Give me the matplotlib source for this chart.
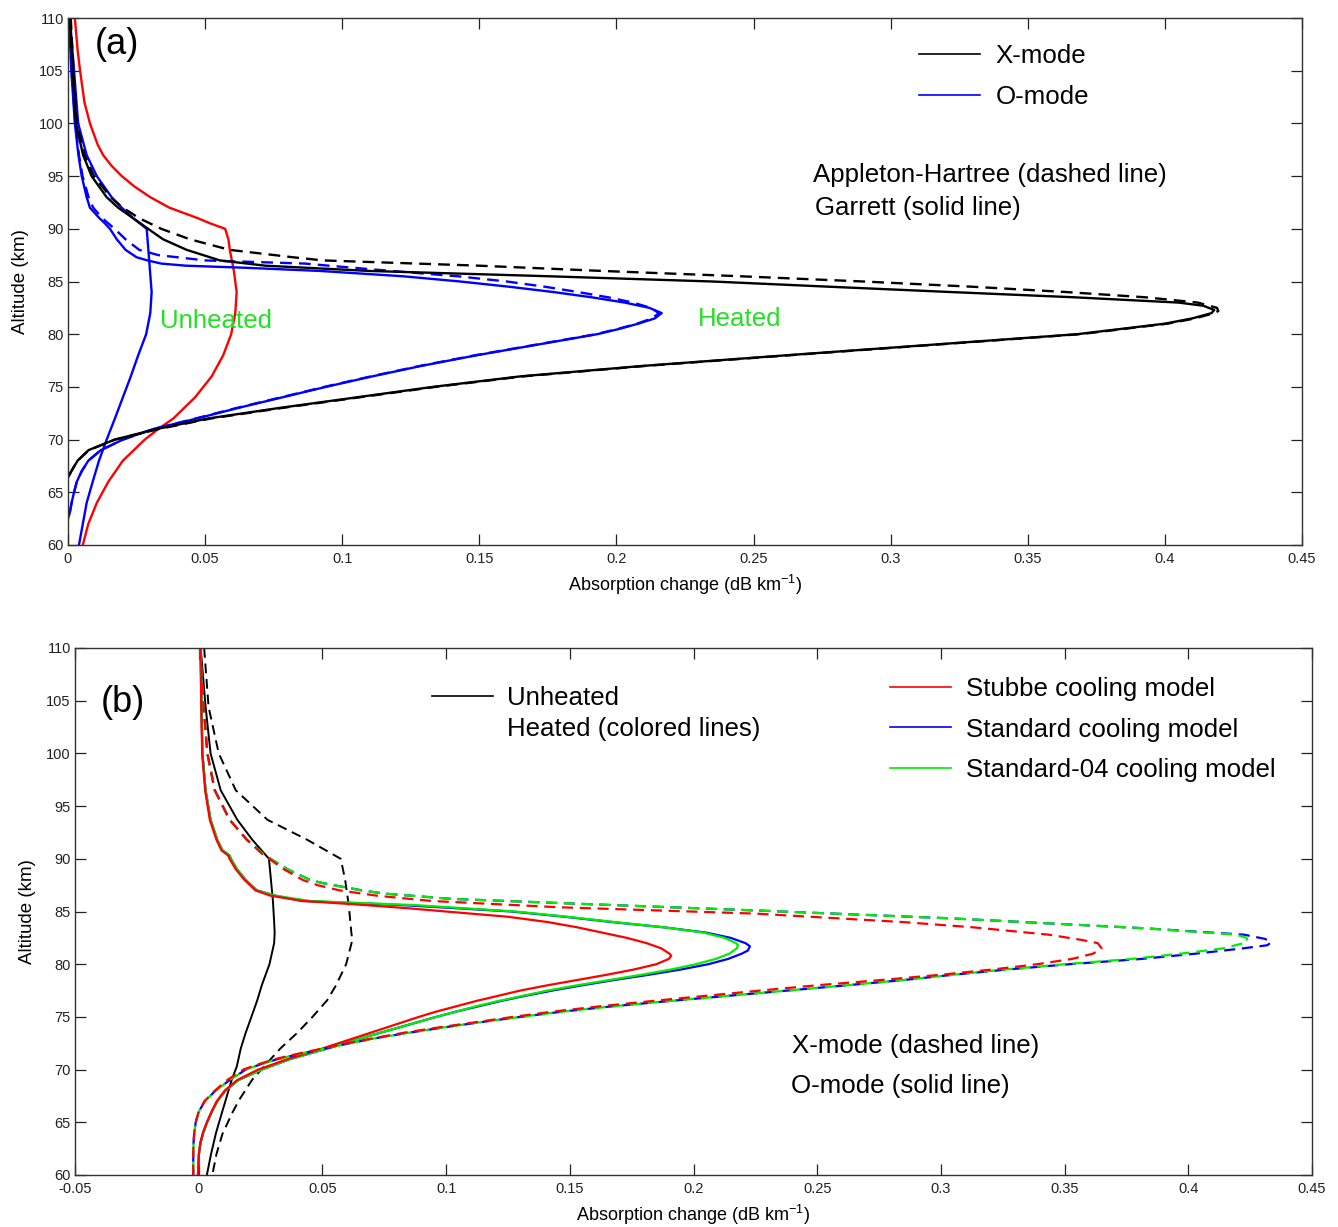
import numpy as np
import matplotlib
matplotlib.use("Agg")
import matplotlib.pyplot as plt
from matplotlib.lines import Line2D
from matplotlib.ticker import FuncFormatter

plt.rcParams['font.family'] = ['Liberation Sans', 'DejaVu Sans']
plt.rcParams['mathtext.default'] = 'regular'

# ---------------- Panel (a) data ----------------
a_red_alt = [110, 107, 105, 102, 100, 98, 97, 96, 95, 94, 93, 92, 91, 90.5, 90, 89, 88, 86, 84, 82, 80, 78, 76, 74, 72, 71, 70, 68, 66, 64, 62, 60]
a_red_x = [0.0025, 0.0035, 0.0044, 0.006, 0.008, 0.0108, 0.0128, 0.0158, 0.0196, 0.0243, 0.030, 0.037, 0.0474, 0.052, 0.0573, 0.0585, 0.059, 0.0605, 0.0615, 0.061, 0.0595, 0.0566, 0.0524, 0.0463, 0.0384, 0.0329, 0.028, 0.020, 0.0147, 0.0105, 0.0074, 0.0054]

a_blue_unh_alt = [110, 105, 100, 97, 95, 93, 92, 91, 90, 87, 84, 82, 80, 78, 76, 74, 72, 70, 68, 66, 64, 62, 60]
a_blue_unh_x = [0.0007, 0.0022, 0.0037, 0.0068, 0.0105, 0.0159, 0.0196, 0.0238, 0.0287, 0.0296, 0.0305, 0.0300, 0.0285, 0.0256, 0.0229, 0.020, 0.0171, 0.0141, 0.0113, 0.009, 0.0068, 0.0054, 0.004]

a_black_alt = [110, 105, 100, 97, 95, 93, 92, 91, 90, 89, 88, 87, 86.5, 86, 85.5, 85, 84.5, 84, 83.5, 83, 82.7, 82.3, 82, 81.5, 81, 80, 79, 78, 77, 76, 75, 74, 73, 72, 71, 70, 69, 68, 67, 66.4]
a_black_x = [0.0007, 0.0017, 0.0029, 0.0055, 0.0086, 0.0141, 0.0183, 0.0238, 0.0292, 0.0347, 0.0433, 0.0554, 0.072, 0.11, 0.175, 0.235, 0.278, 0.322, 0.367, 0.405, 0.414, 0.418, 0.417, 0.41, 0.40, 0.368, 0.315, 0.262, 0.21, 0.165, 0.133, 0.105, 0.077, 0.051, 0.0323, 0.017, 0.0075, 0.0035, 0.0012, 0.0]

a_black_dash_alt = [110, 105, 100, 97, 95, 93, 92, 91, 90.5, 90, 89, 88, 87.3, 87, 86.5, 86, 85.5, 85, 84.5, 84, 83.5, 83, 82.5, 82.2, 82, 81.5, 81, 80, 79, 78, 77, 76, 75, 74, 73, 72, 71, 70, 69, 68, 67, 66.4]
a_black_dash_x = [0.001, 0.002, 0.0032, 0.006, 0.0095, 0.0155, 0.02, 0.026, 0.030, 0.034, 0.0445, 0.059, 0.082, 0.093, 0.15, 0.195, 0.245, 0.29, 0.33, 0.364, 0.393, 0.412, 0.419, 0.4195, 0.418, 0.411, 0.401, 0.369, 0.316, 0.263, 0.211, 0.166, 0.134, 0.106, 0.078, 0.052, 0.033, 0.0172, 0.0076, 0.0035, 0.0012, 0.0]

a_blue_alt = [110, 105, 100, 97, 95, 93, 92, 91, 90.5, 90, 89, 88, 87.3, 87, 86.7, 86.5, 86.3, 86, 85.5, 85, 84.5, 84, 83.5, 83, 82.5, 82, 81.5, 81, 80.5, 80, 79, 78, 77, 76, 75, 74, 73, 72, 71, 70, 69, 68, 67, 66, 65, 64, 63, 62.5]
a_blue_x = [0.0004, 0.0012, 0.0025, 0.0038, 0.005, 0.0068, 0.008, 0.0115, 0.0135, 0.0153, 0.0178, 0.021, 0.025, 0.029, 0.034, 0.043, 0.065, 0.092, 0.122, 0.143, 0.161, 0.177, 0.191, 0.203, 0.212, 0.2165, 0.214, 0.208, 0.201, 0.193, 0.171, 0.149, 0.129, 0.111, 0.094, 0.078, 0.062, 0.047, 0.031, 0.020, 0.012, 0.0074, 0.005, 0.0032, 0.0022, 0.0013, 0.0006, 0.0]

a_blue_dash_alt = [110, 105, 100, 97, 95, 93, 92, 91, 90, 89, 88, 87.5, 87, 86.7, 86.5, 86, 85.5, 85, 84.5, 84, 83.5, 83, 82.5, 82, 81.5, 81, 80.5, 80, 79, 78, 77, 76, 75, 74, 73, 72, 71, 70, 69, 68, 67, 66, 65, 64, 63, 62.5]
a_blue_dash_x = [0.0005, 0.0013, 0.0027, 0.004, 0.0053, 0.0075, 0.0092, 0.0125, 0.017, 0.021, 0.026, 0.033, 0.05, 0.0865, 0.095, 0.118, 0.142, 0.16, 0.174, 0.186, 0.197, 0.206, 0.2125, 0.2155, 0.213, 0.2075, 0.2005, 0.1925, 0.1705, 0.1485, 0.1285, 0.1105, 0.0935, 0.0775, 0.0615, 0.0465, 0.0312, 0.020, 0.012, 0.0074, 0.005, 0.0032, 0.0022, 0.0013, 0.0006, 0.0]

# ---------------- Panel (b) data ----------------
b_black_alt = [110, 104.4, 100, 96.5, 93.7, 91.8, 90, 88, 86, 84, 83, 82, 80, 78, 76.6, 75, 73.5, 72, 70.3, 69, 67.1, 66, 64, 62, 60]
b_black_x = [0.0008, 0.0028, 0.0048, 0.0089, 0.0156, 0.0217, 0.0284, 0.0292, 0.030, 0.0305, 0.0307, 0.0305, 0.0286, 0.0255, 0.0237, 0.0213, 0.019, 0.017, 0.0154, 0.0133, 0.0109, 0.0095, 0.007, 0.005, 0.0033]

b_black_dash_alt = [110, 104.4, 100, 96.5, 93.7, 91.8, 90, 88, 85.5, 83, 82.3, 80, 78, 76.6, 75, 73.5, 72, 70.3, 69, 67.1, 66, 63.9, 62, 60]
b_black_dash_x = [0.0022, 0.004, 0.0081, 0.015, 0.0278, 0.0439, 0.0574, 0.0592, 0.0607, 0.0617, 0.0621, 0.0596, 0.0555, 0.052, 0.046, 0.0399, 0.033, 0.0264, 0.0215, 0.0163, 0.0138, 0.0096, 0.0072, 0.0055]

b_red_alt = [110, 105, 100, 96.5, 93.7, 91.8, 90.8, 90.3, 90, 89, 88, 87, 86.5, 86, 85.7, 85.3, 85, 84.5, 84, 83.5, 83, 82.5, 82, 81.5, 81, 80.8, 80.5, 80, 79.5, 79, 78.5, 78, 77.5, 77, 76.5, 76, 75.5, 75, 74, 73, 72, 71, 70, 69, 68, 67, 66, 65, 64, 63, 62, 61, 60]
b_red_x = [0.0007, 0.001, 0.0014, 0.0026, 0.0045, 0.0072, 0.0092, 0.012, 0.0125, 0.015, 0.0185, 0.023, 0.029, 0.042, 0.062, 0.085, 0.10, 0.125, 0.141, 0.153, 0.163, 0.173, 0.181, 0.187, 0.1903, 0.191, 0.19, 0.185, 0.176, 0.165, 0.153, 0.141, 0.130, 0.121, 0.112, 0.104, 0.096, 0.089, 0.076, 0.063, 0.05, 0.036, 0.024, 0.0155, 0.0105, 0.0073, 0.0052, 0.0033, 0.0017, 0.0006, 0.0001, -0.0001, -0.0003]

b_blue_alt = [110, 105, 100, 96.5, 93.7, 91.8, 90.8, 90.3, 90, 89, 88, 87, 86.5, 86, 85.6, 85, 84.5, 84, 83.5, 83, 82.5, 82, 81.7, 81.3, 81, 80.5, 80, 79.5, 79, 78.5, 78, 77.5, 77, 76.5, 76, 75.5, 75, 74, 73, 72, 71, 70, 69, 68, 67, 66, 65, 64, 63, 62, 61, 60]
b_blue_x = [0.0008, 0.0011, 0.0015, 0.0028, 0.0048, 0.0075, 0.0096, 0.0125, 0.013, 0.0155, 0.019, 0.0235, 0.031, 0.042, 0.083, 0.1265, 0.148, 0.167, 0.188, 0.205, 0.215, 0.221, 0.2228, 0.222, 0.2195, 0.214, 0.206, 0.195, 0.182, 0.168, 0.155, 0.143, 0.132, 0.122, 0.113, 0.104, 0.096, 0.081, 0.066, 0.052, 0.037, 0.0255, 0.016, 0.0108, 0.0075, 0.0053, 0.0034, 0.0018, 0.0007, 0.0001, -0.0001, -0.0003]

b_green_alt = [110, 105, 100, 96.5, 93.7, 91.8, 90.8, 90.3, 90, 89, 88, 87, 86.5, 86, 85.6, 85, 84.5, 84, 83.5, 83, 82.5, 82, 81.8, 81.5, 81, 80.5, 80, 79.5, 79, 78.5, 78, 77.5, 77, 76.5, 76, 75.5, 75, 74, 73, 72, 71, 70, 69, 68, 67, 66, 65, 64, 63, 62, 61, 60]
b_green_x = [0.0008, 0.0011, 0.0015, 0.0028, 0.0048, 0.0075, 0.0096, 0.0125, 0.013, 0.0155, 0.019, 0.0235, 0.031, 0.045, 0.088, 0.128, 0.149, 0.168, 0.188, 0.204, 0.2125, 0.2172, 0.218, 0.2175, 0.2145, 0.209, 0.201, 0.191, 0.179, 0.166, 0.153, 0.141, 0.131, 0.121, 0.112, 0.104, 0.096, 0.081, 0.066, 0.052, 0.037, 0.0255, 0.016, 0.0108, 0.0075, 0.0053, 0.0034, 0.0018, 0.0007, 0.0001, -0.0001, -0.0003]

b_blue_dash_alt = [110, 105, 100, 96.5, 93.7, 91.8, 90.5, 90, 89, 88, 87.7, 87, 86.7, 86.2, 85.8, 85.1, 84.35, 83.4, 82.8, 82.4, 82.1, 81.8, 81.5, 81, 80.5, 80, 79.5, 79, 78.5, 78, 77.5, 77, 76.5, 76, 75.5, 75, 74.5, 74, 73.5, 73, 72.5, 72, 71.5, 71, 70.5, 70, 69, 68, 67, 66, 65, 64, 63, 62, 61, 60]
b_blue_dash_x = [0.0006, 0.0018, 0.0035, 0.0065, 0.0125, 0.0195, 0.026, 0.029, 0.036, 0.045, 0.05, 0.066, 0.075, 0.102, 0.146, 0.225, 0.304, 0.383, 0.4226, 0.431, 0.4335, 0.432, 0.422, 0.403, 0.381, 0.352, 0.327, 0.305, 0.285, 0.262, 0.238, 0.214, 0.19, 0.167, 0.147, 0.13, 0.114, 0.099, 0.085, 0.072, 0.061, 0.051, 0.041, 0.032, 0.025, 0.019, 0.0125, 0.0068, 0.0025, 0.0, -0.0012, -0.0018, -0.0021, -0.0022, -0.0022, -0.0022]

b_green_dash_alt = [110, 105, 100, 96.5, 93.7, 91.8, 90.5, 90, 89, 88, 87.7, 87, 86.7, 86.2, 85.8, 85.1, 84.35, 83.4, 82.8, 82.5, 82.2, 82, 81.5, 81, 80.5, 80, 79.5, 79, 78.5, 78, 77.5, 77, 76.5, 76, 75.5, 75, 74.5, 74, 73.5, 73, 72.5, 72, 71.5, 71, 70.5, 70, 69, 68, 67, 66, 65, 64, 63, 62, 61, 60]
b_green_dash_x = [0.0006, 0.0018, 0.0035, 0.0065, 0.0125, 0.0195, 0.026, 0.029, 0.036, 0.045, 0.05, 0.066, 0.075, 0.102, 0.146, 0.225, 0.304, 0.383, 0.4195, 0.4235, 0.424, 0.4225, 0.414, 0.397, 0.377, 0.35, 0.326, 0.305, 0.285, 0.262, 0.238, 0.214, 0.19, 0.167, 0.147, 0.13, 0.114, 0.099, 0.085, 0.072, 0.061, 0.051, 0.041, 0.032, 0.025, 0.019, 0.0125, 0.0068, 0.0025, 0.0, -0.0012, -0.0018, -0.0021, -0.0022, -0.0022, -0.0022]

b_red_dash_alt = [110, 105, 100, 96.5, 93.7, 91.8, 90.5, 90, 89, 88, 87.5, 87, 86.5, 86, 85.4, 84.8, 84, 83.5, 82.8, 82.3, 82, 81.5, 81, 80.5, 80, 79.5, 79, 78.5, 78, 77.5, 77, 76.5, 76, 75.5, 75, 74.5, 74, 73.5, 73, 72.5, 72, 71.5, 71, 70.5, 70, 69, 68, 67, 66, 65, 64, 63, 62, 61, 60]
b_red_dash_x = [0.0006, 0.0018, 0.0035, 0.0065, 0.0125, 0.0195, 0.0255, 0.0285, 0.0345, 0.042, 0.048, 0.057, 0.072, 0.094, 0.146, 0.225, 0.2845, 0.313, 0.3436, 0.357, 0.3634, 0.365, 0.3615, 0.353, 0.339, 0.321, 0.3, 0.276, 0.25, 0.227, 0.205, 0.183, 0.162, 0.143, 0.127, 0.112, 0.097, 0.083, 0.071, 0.06, 0.05, 0.04, 0.031, 0.024, 0.018, 0.0115, 0.0065, 0.0023, 0.0, -0.0012, -0.0018, -0.0021, -0.0022, -0.0022, -0.0022]

a_xticks = [0, 0.05, 0.1, 0.15, 0.2, 0.25, 0.3, 0.35, 0.4, 0.45]
b_xticks = [-0.05, 0, 0.05, 0.1, 0.15, 0.2, 0.25, 0.3, 0.35, 0.4, 0.45]
yticks = [60, 65, 70, 75, 80, 85, 90, 95, 100, 105, 110]

RED = '#ff0000'
BLUE = '#0000ff'
GREEN = '#00ee00'
TXTGREEN = '#22e022'
DASH = (5, 3)
FS = 18.6

W, H = 1338, 1227
fig = plt.figure(figsize=(W / 100, H / 100), dpi=100)

def box(l, t, r, b):
    return [l / W, 1 - b / H, (r - l) / W, (b - t) / H]

axa = fig.add_axes(box(68, 18, 1302, 545))
axb = fig.add_axes(box(75, 648, 1312, 1175))

fmt = FuncFormatter(lambda v, p: '%g' % round(v, 4))

def style(ax, xticks, xlim):
    ax.set_xlim(*xlim)
    ax.set_ylim(60, 110)
    ax.set_xticks(xticks)
    ax.set_yticks(yticks)
    ax.xaxis.set_major_formatter(fmt)
    ax.tick_params(direction='in', top=True, right=True, length=8, width=0.9,
                   labelsize=10.5, colors='#222222')
    ax.tick_params(axis='x', pad=5)
    ax.tick_params(axis='y', pad=3)
    for s in ax.spines.values():
        s.set_linewidth(1.0)
        s.set_color('#333333')
    ax.set_xlabel('Absorption change (dB km$^{-1}$)', fontsize=13, labelpad=5)
    ax.set_ylabel('Altitude (km)', fontsize=13.5, labelpad=7)

lwa = 1.7
# Panel (a)
axa.plot(a_red_x, a_red_alt, color=RED, lw=lwa)
axa.plot(a_blue_unh_x, a_blue_unh_alt, color=BLUE, lw=lwa)
axa.plot(a_blue_dash_x, a_blue_dash_alt, color=BLUE, lw=lwa, dashes=DASH)
axa.plot(a_blue_x, a_blue_alt, color=BLUE, lw=lwa)
axa.plot(a_black_dash_x, a_black_dash_alt, color='k', lw=lwa, dashes=DASH)
axa.plot(a_black_x, a_black_alt, color='k', lw=lwa)
style(axa, a_xticks, (0, 0.45))

axa.text(0.0098, 107.5, '(a)', fontsize=26, va='center', ha='left')
axa.text(0.2717, 95.1, 'Appleton-Hartree (dashed line)', fontsize=FS, va='center', ha='left')
axa.text(0.2724, 92.0, 'Garrett (solid line)', fontsize=FS, va='center', ha='left')
axa.text(0.0336, 81.25, 'Unheated', fontsize=FS, va='center', ha='left', color=TXTGREEN)
axa.text(0.2298, 81.4, 'Heated', fontsize=FS, va='center', ha='left', color=TXTGREEN)

ha = [Line2D([], [], color='k', lw=1.2), Line2D([], [], color=BLUE, lw=1.2)]
axa.legend(ha, ['X-mode', 'O-mode'], loc='upper left', bbox_to_anchor=(0.690, 0.951),
           frameon=False, fontsize=FS, handlelength=2.35, handletextpad=0.6,
           borderpad=0, borderaxespad=0, labelspacing=0.68)

# Panel (b)
lwb = 1.6
axb.plot(b_black_x, b_black_alt, color='k', lw=1.4)
axb.plot(b_black_dash_x, b_black_dash_alt, color='k', lw=1.4, dashes=DASH)
axb.plot(b_blue_x, b_blue_alt, color=BLUE, lw=lwb)
axb.plot(b_green_x, b_green_alt, color=GREEN, lw=lwb)
axb.plot(b_red_x, b_red_alt, color=RED, lw=lwb)
axb.plot(b_blue_dash_x, b_blue_dash_alt, color=BLUE, lw=lwb, dashes=DASH)
axb.plot(b_green_dash_x, b_green_dash_alt, color=GREEN, lw=lwb, dashes=DASH)
axb.plot(b_red_dash_x, b_red_dash_alt, color=RED, lw=lwb, dashes=DASH)
style(axb, b_xticks, (-0.05, 0.45))

axb.text(-0.0396, 104.8, '(b)', fontsize=26, va='center', ha='left')
axb.text(0.2397, 72.24, 'X-mode (dashed line)', fontsize=FS, va='center', ha='left')
axb.text(0.2393, 68.44, 'O-mode (solid line)', fontsize=FS, va='center', ha='left')

h1 = [Line2D([], [], color='k', lw=1.2), Line2D([], [], color='none', lw=0)]
leg1 = axb.legend(h1, ['Unheated', 'Heated (colored lines)'], loc='upper left',
                  bbox_to_anchor=(0.2886, 0.928), frameon=False, fontsize=FS,
                  handlelength=2.35, handletextpad=0.55, borderpad=0, borderaxespad=0,
                  labelspacing=0.28)
axb.add_artist(leg1)
h2 = [Line2D([], [], color=RED, lw=1.2), Line2D([], [], color=BLUE, lw=1.2),
      Line2D([], [], color=GREEN, lw=1.2)]
axb.legend(h2, ['Stubbe cooling model', 'Standard cooling model', 'Standard-04 cooling model'],
           loc='upper left', bbox_to_anchor=(0.659, 0.945), frameon=False, fontsize=FS,
           handlelength=2.35, handletextpad=0.6, borderpad=0, borderaxespad=0,
           labelspacing=0.64)

fig.savefig('out.png', dpi=100)
